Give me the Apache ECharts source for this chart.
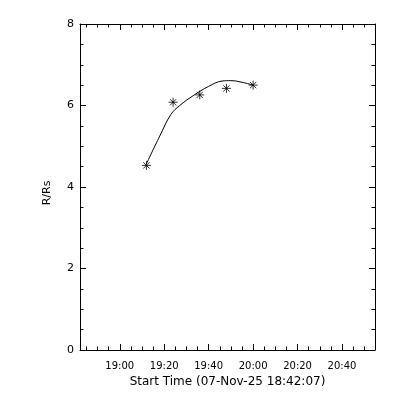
<!DOCTYPE html>
<html>
<head>
<meta charset="utf-8">
<script src="https://cdn.jsdelivr.net/npm/echarts@6/dist/echarts.min.js"></script>
<style>html,body{margin:0;padding:0;background:#fff}#c{width:400px;height:400px}</style>
</head>
<body>
<div id="c"></div>
<script>
// Measured points (time of observation, R/Rs)
var pointTimes = ["19:12:00", "19:24:00", "19:36:00", "19:48:00", "20:00:00"];
var pointValues = [4.53, 6.08, 6.26, 6.42, 6.50];
// Fitted curve
var curveTimes = ["19:12:00", "19:18:00", "19:23:00", "19:27:00", "19:33:00", "19:40:00", "19:46:00", "19:50:00", "19:55:00", "20:00:00"];
var curveValues = [4.57, 5.25, 5.78, 6.00, 6.24, 6.47, 6.60, 6.61, 6.57, 6.50];
// Axis
var axisStart = "18:42:07";
var axisEnd = "20:54:50";
var xTickLabels = ["19:00", "19:20", "19:40", "20:00", "20:20", "20:40"];
var yTickLabels = ["0", "2", "4", "6", "8"];
var xTitle = "Start Time (07-Nov-25 18:42:07)";
var yTitle = "R/Rs";

function toMin(s) {
  var p = s.split(":").map(Number);
  return p[0] * 60 + p[1] + (p[2] || 0) / 60;
}
function fmt(m) {
  var h = Math.floor(m / 60), mm = Math.round(m - h * 60);
  return h + ":" + (mm < 10 ? "0" : "") + mm;
}
var xMin = toMin(axisStart), xMax = toMin(axisEnd);
var majors = xTickLabels.map(toMin);
var minors = [];
for (var m = Math.ceil(xMin / 5) * 5; m <= xMax; m += 5) minors.push(m);

var font = "DejaVu Sans";
var black = "#000";
function xAx(pos, ticks, len, showLine, showLabel, name) {
  return {
    type: "value", position: pos, min: xMin, max: xMax,
    axisLine: { show: showLine, lineStyle: { color: black, width: 1 } },
    axisTick: { show: true, inside: true, length: len, customValues: ticks, lineStyle: { color: black, width: 1 } },
    axisLabel: showLabel ? { show: true, customValues: majors, formatter: function (v) { return fmt(v); }, color: black, fontFamily: font, fontSize: 10, margin: 11 } : { show: false },
    splitLine: { show: false },
    name: name || "", nameLocation: "middle", nameGap: 24,
    nameTextStyle: { color: black, fontFamily: font, fontSize: 12 }
  };
}
function yAx(pos, showLabel, name) {
  return {
    type: "value", position: pos, min: 0, max: 8, interval: 2,
    axisLine: { show: true, lineStyle: { color: black, width: 1 } },
    axisTick: { show: true, inside: true, length: 6, lineStyle: { color: black, width: 1 } },
    minorTick: { show: true, splitNumber: 4, length: 3.5, lineStyle: { color: black, width: 1 } },
    axisLabel: showLabel ? { show: true, color: black, fontFamily: font, fontSize: 11, margin: 6,
      formatter: function (v) { return yTickLabels[Math.round(v / 2)]; } } : { show: false },
    splitLine: { show: false },
    name: name || "", nameLocation: "middle", nameGap: 27,
    nameTextStyle: { color: black, fontFamily: font, fontSize: 11, padding: [0, 12, 0, 0] }
  };
}

var star = "path://M0,5L10,5M5,0L5,10M1.5,1.5L8.5,8.5M8.5,1.5L1.5,8.5";

var chart = echarts.init(document.getElementById("c"), null, { renderer: "canvas" });
chart.setOption({
  animation: false,
  backgroundColor: "#fff",
  grid: { left: 80, right: 25, top: 24, bottom: 50, containLabel: false },
  xAxis: [
    xAx("bottom", majors, 6, true, true, xTitle),
    xAx("bottom", minors, 3.5, false, false),
    xAx("top", majors, 6, true, false),
    xAx("top", minors, 3.5, false, false)
  ],
  yAxis: [yAx("left", true, yTitle), yAx("right", false)],
  series: [
    {
      type: "line", xAxisIndex: 0, yAxisIndex: 0, smooth: 0.4, showSymbol: false,
      lineStyle: { color: black, width: 1 },
      data: curveTimes.map(function (t, i) { return [toMin(t), curveValues[i]]; })
    },
    {
      type: "scatter", xAxisIndex: 0, yAxisIndex: 0, symbol: star, symbolSize: 9,
      itemStyle: { color: "rgba(0,0,0,0)", borderColor: black, borderWidth: 1 },
      data: pointTimes.map(function (t, i) { return [toMin(t), pointValues[i]]; })
    }
  ]
});
</script>
</body>
</html>
